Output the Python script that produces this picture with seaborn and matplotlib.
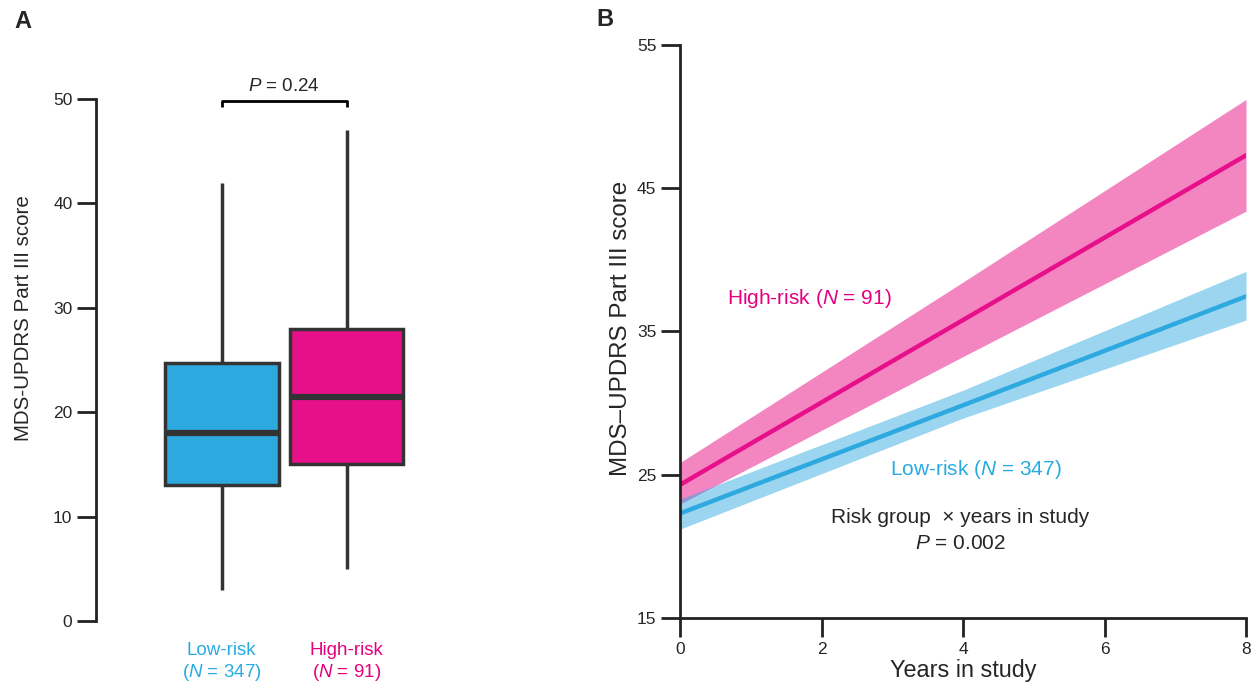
import numpy as np
import pandas as pd
import matplotlib
matplotlib.use("Agg")
import matplotlib.pyplot as plt
import seaborn as sns

# ---------------- data ----------------
groups = ["Low-risk", "High-risk"]
group_n = [347, 91]
# five-number summaries (min, Q1, median, Q3, max)
low_summary = [3, 13, 18, 24.7, 42]
high_summary = [5, 15, 21.5, 28, 47]
p_box = "0.24"

years = [0, 4, 8]
high_fit = [24.3, 35.8, 47.3]
high_upper = [25.85, 38.45, 51.2]
high_lower = [22.95, 33.25, 43.4]
low_fit = [22.3, 29.85, 37.45]
low_upper = [23.3, 30.9, 39.2]
low_lower = [21.2, 28.95, 35.8]
p_inter = "0.002"

yticks_a = [0, 10, 20, 30, 40, 50]
yticks_b = [15, 25, 35, 45, 55]
xticks_b = [0, 2, 4, 6, 8]

# ---------------- style ----------------
sns.set_style("ticks")
plt.rcParams["font.family"] = ["Liberation Sans", "DejaVu Sans"]
plt.rcParams["mathtext.fontset"] = "custom"
plt.rcParams["mathtext.it"] = "Liberation Sans:italic"
plt.rcParams["mathtext.rm"] = "Liberation Sans"

BLUE = "#2EA9E0"
PINK = "#E8108A"
BLUE_TXT = "#29ABE2"
PINK_TXT = "#E6007E"
EDGE = "#333333"
AX = "#222222"

fig = plt.figure(figsize=(12.56, 6.86), dpi=100)

# ---------------- panel A ----------------
axA = fig.add_axes([96 / 1256, 65 / 686, 313 / 1256, 522 / 686])
dfA = pd.DataFrame({
    "group": [groups[0]] * len(low_summary) + [groups[1]] * len(high_summary),
    "score": low_summary + high_summary,
})
sns.boxplot(data=dfA, x="group", y="score", hue="group", order=groups,
            hue_order=groups, palette=[BLUE, PINK], legend=False,
            saturation=1, whis=(0, 100), width=0.91, showcaps=False,
            showfliers=False, linewidth=2.5, linecolor=EDGE,
            medianprops=dict(linewidth=4.5, color=EDGE), ax=axA)
axA.set_xlim(-1.008, 1.5)
axA.set_ylim(0, 50)
axA.set_yticks(yticks_a)
axA.tick_params(axis="y", length=14, width=2, labelsize=12.5, pad=3, color=AX)
axA.tick_params(axis="x", length=0, labelbottom=False)
axA.set_xlabel("")
axA.set_ylabel("MDS-UPDRS Part III score", fontsize=14.8)
axA.yaxis.set_label_coords(-0.20, 0.58)
for s in ["top", "right", "bottom"]:
    axA.spines[s].set_visible(False)
axA.spines["left"].set_linewidth(2)
axA.spines["left"].set_color(AX)

# significance bracket
axA.plot([0, 0, 1, 1], [49.2, 49.8, 49.8, 49.2], color="black", lw=2,
         clip_on=False, solid_capstyle="butt")
axA.text(0.5, 50.4, r"$\it{P}$ = " + p_box, ha="center", va="bottom",
         fontsize=13.5, clip_on=False)

for i, (g, n, c) in enumerate(zip(groups, group_n, [BLUE_TXT, PINK_TXT])):
    axA.text(i, -4.0, g + "\n(" + r"$\it{N}$" + f" = {n})", ha="center",
             va="center", color=c, fontsize=13.5, linespacing=1.2,
             clip_on=False)

fig.text(14 / 1256, 1 - 22 / 686, "A", fontsize=17, fontweight="bold",
         va="center", ha="left")

# ---------------- panel B ----------------
axB = fig.add_axes([680 / 1256, 68 / 686, 566 / 1256, 573 / 686])
dfB = pd.DataFrame({
    "years": years * 2,
    "score": high_fit + low_fit,
    "group": [groups[1]] * len(years) + [groups[0]] * len(years),
})
axB.fill_between(years, high_lower, high_upper, color=PINK_TXT, alpha=0.48,
                 linewidth=0)
axB.fill_between(years, low_lower, low_upper, color=BLUE, alpha=0.48,
                 linewidth=0)
sns.lineplot(data=dfB, x="years", y="score", hue="group",
             hue_order=[groups[1], groups[0]], palette=[PINK, BLUE],
             linewidth=3.2, legend=False, ax=axB)
axB.set_xlim(0, 8)
axB.set_ylim(15, 55)
axB.set_xticks(xticks_b)
axB.set_yticks(yticks_b)
axB.tick_params(length=14, width=2, labelsize=12.5, pad=3, color=AX)
axB.set_xlabel("Years in study", fontsize=16.8)
axB.xaxis.set_label_coords(0.5, -0.0716)
axB.set_ylabel("MDS\u2013UPDRS Part III score", fontsize=17.4)
axB.yaxis.set_label_coords(-0.085, 0.505)
for s in ["top", "right"]:
    axB.spines[s].set_visible(False)
for s in ["left", "bottom"]:
    axB.spines[s].set_linewidth(2)
    axB.spines[s].set_color(AX)

axB.text(0.66, 37.3, "High-risk (" + r"$\it{N}$" + f" = {group_n[1]})",
         color=PINK_TXT, fontsize=15, ha="left", va="center")
axB.text(2.97, 25.4, "Low-risk (" + r"$\it{N}$" + f" = {group_n[0]})",
         color=BLUE_TXT, fontsize=15, ha="left", va="center")
axB.text(3.96, 22.05, "Risk group  \u00d7 years in study", fontsize=15,
         ha="center", va="center")
axB.text(3.96, 20.2, r"$\it{P}$ = " + p_inter, fontsize=15,
         ha="center", va="center")

fig.text(596 / 1256, 1 - 20 / 686, "B", fontsize=17, fontweight="bold",
         va="center", ha="left")

fig.savefig("out.png", dpi=100)
